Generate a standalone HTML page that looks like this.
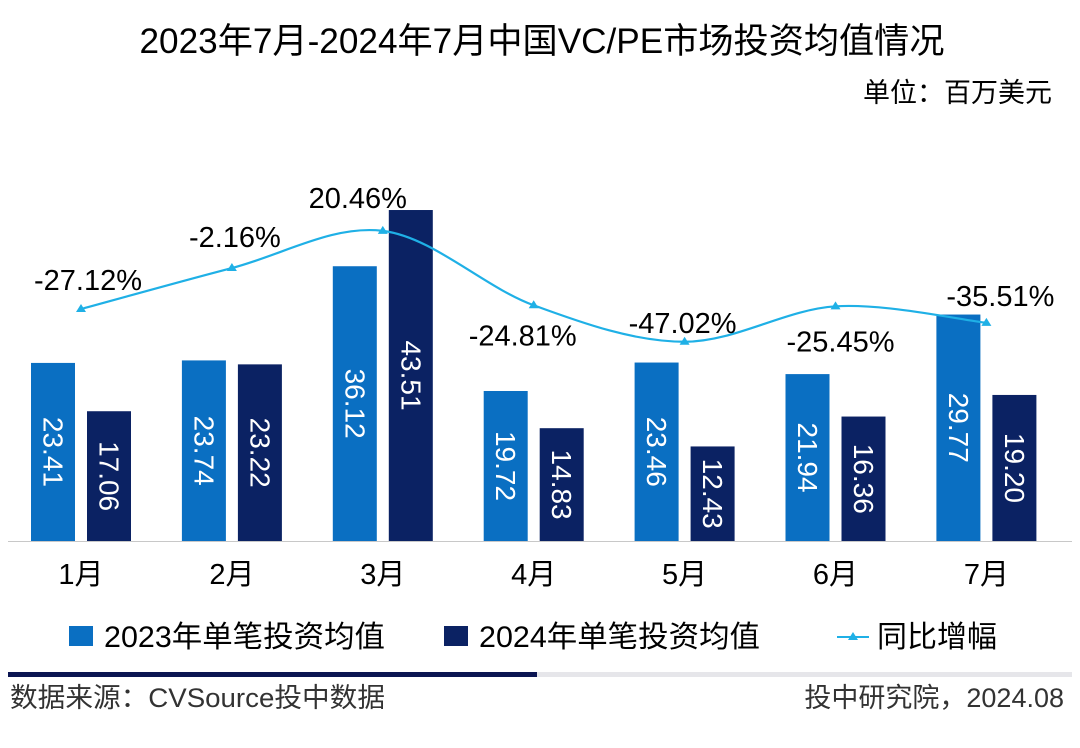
<!DOCTYPE html>
<html><head><meta charset="utf-8">
<style>
body{margin:0;background:#fff;}
svg{display:block;font-family:"Liberation Sans","Noto Sans CJK SC",sans-serif;}
</style></head>
<body>
<svg id="chart" width="1080" height="748" viewBox="0 0 1080 748">
  <text x="542" y="53" font-size="35" text-anchor="middle" fill="#000" textLength="805" lengthAdjust="spacingAndGlyphs">2023年7月-2024年7月中国VC/PE市场投资均值情况</text>
  <text x="1052" y="102" font-size="27" text-anchor="end" fill="#000">单位：百万美元</text>
  <g id="bars"></g>
  <g id="line"></g>
  <line x1="8" y1="541.5" x2="1072" y2="541.5" stroke="#c8c8c8" stroke-width="1"/>
  <g id="xlabels"></g>
  <g>
    <rect x="69" y="626" width="24" height="20" fill="#0a6fc2"/>
    <text x="104" y="647" font-size="30" fill="#000" textLength="281" lengthAdjust="spacingAndGlyphs">2023年单笔投资均值</text>
    <rect x="444" y="626" width="24" height="20" fill="#0b2263"/>
    <text x="479" y="647" font-size="30" fill="#000" textLength="281" lengthAdjust="spacingAndGlyphs">2024年单笔投资均值</text>
    <line x1="837" y1="637" x2="869" y2="637" stroke="#1fb0e6" stroke-width="2"/>
    <polygon points="853,632 858,640 848,640" fill="#1fb0e6"/>
    <text x="877" y="647" font-size="30" fill="#000">同比增幅</text>
  </g>
  <rect x="8" y="672" width="529" height="5" fill="#0b1552"/>
  <rect x="537" y="672" width="535" height="5" fill="#e6e6ea"/>
  <text x="10" y="707" font-size="27" fill="#333" textLength="375" lengthAdjust="spacingAndGlyphs">数据来源：CVSource投中数据</text>
  <text x="1064" y="707" font-size="27" fill="#333" text-anchor="end">投中研究院，2024.08</text>
</svg>
<script>
const categories = ["1月","2月","3月","4月","5月","6月","7月"];
const values2023 = [23.41,23.74,36.12,19.72,23.46,21.94,29.77];
const values2024 = [17.06,23.22,43.51,14.83,12.43,16.36,19.20];
const growthPct = [-27.12,-2.16,20.46,-24.81,-47.02,-25.45,-35.51];

// label placement offsets (layout only)
const labelDx=[7,3,-25,-11,-2,5,14];
const labelDy=[-19,-21,-23,40,-9,45,-17];

const NS="http://www.w3.org/2000/svg";
const baseY=541, barScale=7.607;
const xCenter=i=>81+i*150.9;
const yBar=v=>baseY-v*barScale;
const yPct=v=>264.5-v*1.643;
function mk(tag,attrs,parent){const e=document.createElementNS(NS,tag);for(const k in attrs)e.setAttribute(k,attrs[k]);parent.appendChild(e);return e;}
const gb=document.getElementById('bars'), gl=document.getElementById('line'), gx=document.getElementById('xlabels');
const bw=44;
function drawBar(v,x,color,name){
  const y=yBar(v);
  const r=mk('rect',{x:x,y:y,width:bw,height:baseY-y,fill:color},gb);
  
  
  const cx=x+bw/2, cy=(y+baseY)/2;
  const t=mk('text',{x:cx,y:cy,'font-size':28,fill:'#fff','text-anchor':'middle','dominant-baseline':'central',transform:`rotate(90 ${cx} ${cy})`},gb);
  t.textContent=v.toFixed(2);
  
  
}
categories.forEach((c,i)=>{
  const cx=xCenter(i);
  drawBar(values2023[i],cx-50,'#0a6fc2','bar-2023-'+(i+1));
  drawBar(values2024[i],cx+6,'#0b2263','bar-2024-'+(i+1));
  const t=mk('text',{x:cx,y:584,'font-size':29,'text-anchor':'middle',fill:'#000'},gx);
  t.textContent=c;
  
  
});
const pts=growthPct.map((v,i)=>[xCenter(i),yPct(v)]);
let d=`M${pts[0][0]},${pts[0][1]}`;
for(let i=0;i<pts.length-1;i++){
  const p0=pts[Math.max(0,i-1)],p1=pts[i],p2=pts[i+1],p3=pts[Math.min(pts.length-1,i+2)];
  const c1=[p1[0]+(p2[0]-p0[0])/6,p1[1]+(p2[1]-p0[1])/6];
  const c2=[p2[0]-(p3[0]-p1[0])/6,p2[1]-(p3[1]-p1[1])/6];
  d+=` C${c1[0]},${c1[1]} ${c2[0]},${c2[1]} ${p2[0]},${p2[1]}`;
}
const path=mk('path',{d:d,fill:'none',stroke:'#1fb0e6','stroke-width':2.2},gl);


pts.forEach((p,i)=>{
  const m=mk('polygon',{points:`${p[0]},${p[1]-5} ${p[0]+5},${p[1]+3} ${p[0]-5},${p[1]+3}`,fill:'#1fb0e6'},gl);
  
  
  const t=mk('text',{x:p[0]+labelDx[i],y:p[1]+labelDy[i],'font-size':29,'text-anchor':'middle',fill:'#000'},gl);
  t.textContent=growthPct[i].toFixed(2)+'%';
  
  
});
</script>
</body></html>
